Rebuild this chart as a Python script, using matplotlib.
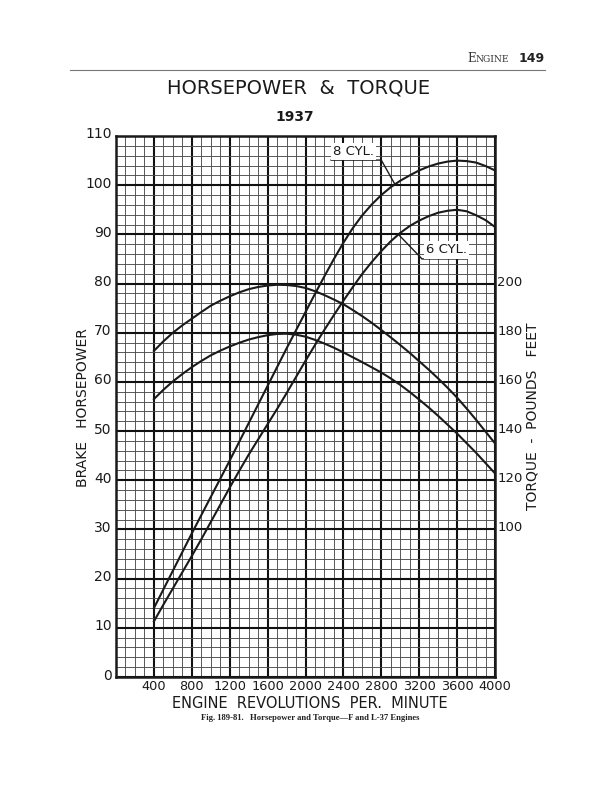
import matplotlib
matplotlib.use("Agg")
import matplotlib.pyplot as plt
from matplotlib.ticker import MultipleLocator
from matplotlib.lines import Line2D
from matplotlib.transforms import ScaledTranslation

# engine speed, rpm
rpm = [400, 500, 600, 700, 800, 900, 1000, 1100, 1200, 1300,
       1400, 1500, 1600, 1700, 1800, 1900, 2000, 2100, 2200, 2300,
       2400, 2500, 2600, 2700, 2800, 2900, 3000, 3100, 3200, 3300,
       3400, 3500, 3600, 3700, 3800, 3900, 4000]

# brake horsepower
hp_8cyl = [14.0, 17.8, 21.6, 25.4, 29.2, 32.9, 36.6, 40.3, 44.0, 47.8,
           51.6, 55.4, 59.2, 63.0, 66.8, 70.5, 74.2, 77.9, 81.5, 85.0,
           88.3, 91.3, 93.9, 96.1, 98.0, 99.6, 100.9, 102.0, 103.0, 103.8,
           104.4, 104.8, 105.0, 104.9, 104.6, 103.9, 103.0]
hp_6cyl = [11.3, 14.7, 18.0, 21.3, 24.6, 28.0, 31.5, 35.0, 38.5, 41.9,
           45.2, 48.3, 51.4, 54.5, 57.7, 61.0, 64.3, 67.5, 70.6, 73.6,
           76.5, 79.3, 82.0, 84.4, 86.6, 88.6, 90.3, 91.7, 92.8, 93.7,
           94.4, 94.8, 95.0, 94.7, 93.9, 92.9, 91.5]

# torque, pounds feet
tq_8cyl = [172.6, 176.5, 180.0, 183.0, 185.7, 188.4, 191.0, 193.0, 194.8, 196.4,
           197.7, 198.6, 199.2, 199.5, 199.4, 199.0, 198.2, 196.9, 195.3, 193.5,
           191.6, 189.2, 186.7, 184.0, 181.1, 178.1, 175.0, 171.8, 168.4, 165.0,
           161.4, 157.6, 153.6, 149.2, 144.6, 139.8, 135.0]
tq_6cyl = [153.0, 156.8, 160.2, 163.2, 166.0, 168.5, 170.8, 172.7, 174.4, 175.9,
           177.2, 178.2, 179.0, 179.5, 179.6, 179.2, 178.4, 177.1, 175.6, 173.9,
           172.0, 170.0, 168.0, 165.9, 163.8, 161.4, 158.8, 155.9, 152.8, 149.6,
           146.2, 142.6, 139.0, 135.1, 131.2, 127.0, 122.8]

x_ticks = [400, 800, 1200, 1600, 2000, 2400, 2800, 3200, 3600, 4000]
hp_ticks = [0, 10, 20, 30, 40, 50, 60, 70, 80, 90, 100, 110]
tq_ticks = [100, 120, 140, 160, 180, 200]

ink = "#1a1a1a"

fig = plt.figure(figsize=(6.12, 7.92), dpi=100)
ax = fig.add_axes([116 / 612, 115 / 792, 379 / 612, 541 / 792])
ax.set_xlim(0, 4000)
ax.set_ylim(0, 110)

# graph paper
ax.xaxis.set_major_locator(MultipleLocator(400))
ax.xaxis.set_minor_locator(MultipleLocator(100))
ax.yaxis.set_major_locator(MultipleLocator(10))
ax.yaxis.set_minor_locator(MultipleLocator(2))
ax.grid(which="minor", color="#4d4d4d", lw=0.65)
ax.grid(which="major", color="#111111", lw=1.5)
ax.set_axisbelow(True)
ax.set_xticks(x_ticks)
ax.set_yticks(hp_ticks)
ax.tick_params(which="both", length=0)
ax.tick_params(axis="x", pad=2.5, labelsize=9.3, colors=ink)
ax.tick_params(axis="y", pad=3, labelsize=10, colors=ink)
for s in ax.spines.values():
    s.set_linewidth(1.8)
    s.set_color(ink)

ax.plot(rpm, hp_8cyl, color=ink, lw=1.5, zorder=4)
ax.plot(rpm, hp_6cyl, color=ink, lw=1.5, zorder=4)

ax2 = ax.twinx()
ax2.set_ylim(40, 260)
ax2.set_yticks(tq_ticks)
ax2.tick_params(length=0, pad=1.5, labelsize=9.5, colors=ink)
for s in ax2.spines.values():
    s.set_visible(False)
ax2.plot(rpm, tq_8cyl, color=ink, lw=1.5)
ax2.plot(rpm, tq_6cyl, color=ink, lw=1.5)

# numbers sit a little above their lines
lift = ScaledTranslation(0, 3 / 100, fig.dpi_scale_trans)
for lab in ax.get_yticklabels() + ax2.get_yticklabels():
    lab.set_transform(lab.get_transform() + lift)

# curve labels with underline and leader
i3000 = rpm.index(3000)
ax.plot([2270, 2800, rpm[i3000] - 60], [105.1, 105.1, hp_8cyl[i3000] - 0.6],
        color=ink, lw=1.0, zorder=5)
ax.text(2290, 105.6, "8 CYL.", fontsize=9.5, color=ink, va="bottom", ha="left", zorder=5,
        bbox=dict(facecolor="white", edgecolor="none", pad=1.5))
ax.plot([rpm[i3000] - 20, 3230, 3700], [hp_6cyl[i3000] - 0.3, 85.0, 85.0],
        color=ink, lw=1.0, zorder=5)
ax.text(3275, 85.5, "6 CYL.", fontsize=9.5, color=ink, va="bottom", ha="left", zorder=5,
        bbox=dict(facecolor="white", edgecolor="none", pad=1.5))

# axis titles
fig.text(83 / 612, 1 - 408 / 792, "BRAKE   HORSEPOWER", rotation=90, ha="center", va="center",
         fontsize=10, color=ink)
fig.text(533 / 612, 1 - 416 / 792, "TORQUE  -  POUNDS   FEET", rotation=90, ha="center", va="center",
         fontsize=10, color=ink)
fig.text(310 / 612, 1 - 703 / 792, "ENGINE  REVOLUTIONS  PER.  MINUTE", ha="center", va="center",
         fontsize=10.5, color=ink)
fig.text(310 / 612, 1 - 718 / 792, "Fig. 189-81.   Horsepower and Torque\u2014F and L-37 Engines",
         ha="center", va="center", fontsize=6.2, family="Liberation Serif", weight="bold",
         color="#222222")

# titles
fig.text(299 / 612, 1 - 88 / 792, "HORSEPOWER  &  TORQUE", ha="center", va="center",
         fontsize=14, color=ink)
fig.text(295 / 612, 1 - 117 / 792, "1937", ha="center", va="center", fontsize=10,
         weight="bold", color=ink)

# page header
fig.add_artist(Line2D([70 / 612, 545 / 612], [1 - 70 / 792, 1 - 70 / 792], color="#777777", lw=0.8))
fig.text(467 / 612, 1 - 62 / 792, "E", ha="left", va="baseline", fontsize=8.5,
         family="DejaVu Serif", color="#333333")
fig.text(476 / 612, 1 - 62 / 792, "NGINE", ha="left", va="baseline", fontsize=6.6,
         family="DejaVu Serif", color="#333333")
fig.text(545 / 612, 1 - 62 / 792, "149", ha="right", va="baseline", fontsize=9,
         weight="bold", color="#222222")

plt.savefig("out.png", dpi=100, facecolor="white")
